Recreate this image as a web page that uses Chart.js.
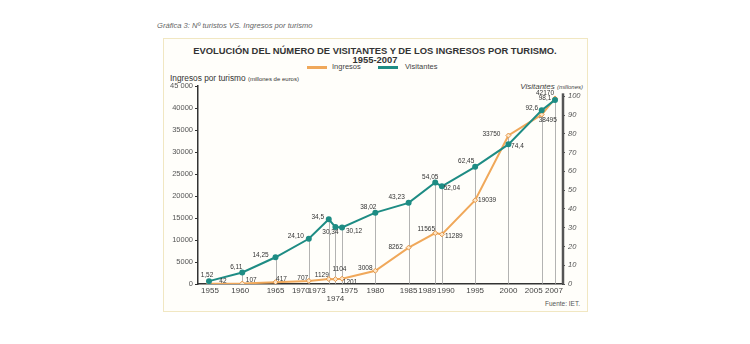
<!DOCTYPE html>
<html>
<head>
<title>Evolución visitantes e ingresos por turismo</title>
<script src="https://cdn.jsdelivr.net/npm/chart.js"></script>
<style>
  body { margin: 0; width: 750px; height: 344px; background: #fff; position: relative; overflow: hidden;
         font-family: 'Liberation Sans', Arial, sans-serif; }
  .abs { position: absolute; white-space: nowrap; line-height: 1; }
  .box { position: absolute; left: 163px; top: 38px; width: 423px; height: 272px;
         border: 1.5px solid #f1e7c2; background: #fffefa; }
  #c { position: absolute; left: 0; top: 0; }
  .caption { left: 157px; top: 22px; font-size: 7.6px; font-style: italic; color: #666; }
  .title { left: 0; width: 750px; text-align: center; font-weight: bold; color: #333; font-size: 9.4px; }
  .leg { top: 62.5px; font-size: 7.5px; color: #444; }
  .legline { position: absolute; top: 66px; height: 2.5px; width: 20px; }
</style>
</head>
<body>
<div class="abs caption">Gráfica 3: Nº turistos VS. Ingresos por turismo</div>
<div class="box"></div>
<div class="abs title" style="top:46px">EVOLUCIÓN DEL NÚMERO DE VISITANTES Y DE LOS INGRESOS POR TURISMO.</div>
<div class="abs title" style="top:55px">1955-2007</div>
<div class="legline" style="left:307px;background:#f0a85a"></div>
<div class="abs leg" style="left:332px">Ingresos</div>
<div class="legline" style="left:378px;background:#1e8c84"></div>
<div class="abs leg" style="left:405px">Visitantes</div>
<div class="abs" style="left:170px;top:74px;font-size:8.3px;color:#333">Ingresos por turismo <span style="font-size:6px">(millones de euros)</span></div>
<div class="abs" style="right:167px;top:83px;font-size:8px;color:#444;font-style:italic">Visitantes <span style="font-size:6px">(millones)</span></div>
<div class="abs" style="right:170px;top:301px;font-size:6.5px;color:#555">Fuente: IET.</div>
<canvas id="c" width="750" height="344"></canvas>

<script>
// datos
const years = [1955, 1960, 1965, 1970, 1973, 1974, 1975, 1980, 1985, 1989, 1990, 1995, 2000, 2005, 2007];
const ingresos = [42, 107, 417, 707, 1129, 1104, 1201, 3008, 8262, 11565, 11289, 19039, 33750, 38495, 42170];
const visitantes = [1.52, 6.11, 14.25, 24.10, 34.5, 30.34, 30.12, 38.02, 43.23, 54.05, 52.04, 62.45, 74.4, 92.6, 98.1];
const visitLabels = ['1,52', '6,11', '14,25', '24,10', '34,5', '30,34', '30,12', '38,02', '43,23', '54,05', '52,04', '62,45', '74,4', '92,6', '98,1'];
const leftTicks = ['0', '5000', '10000', '15000', '20000', '25000', '30000', '35000', '40000', '45 000'];

// desplazamiento de etiquetas (px)
const ingOff = [[14,-3],[9,-3],[6,-3],[-6,-3],[-7,-4],[4,-10],[8,3],[-10,-3],[-13,0],[-9,-4],[12,2],[12,0],[-17,-1],[6,6],[-10,-5]];
const visOff = [[-2,-6],[-6,-5],[-15,-2],[-13,-3],[-11,-2],[-5,5],[12,4],[-7,-5],[-12,-6],[-5,-5],[10,2],[-9,-6],[9,2],[-10,-2],[-10,-2]];
const yearShift = [1,-2,0,-8,-12,0,7,0,0,-8,4,0,0,-8,-1];

const ORANGE = '#f0a85a', TEAL = '#1e8c84';

const dropLines = {
  id: 'dropLines',
  beforeDatasetsDraw(chart) {
    const ctx = chart.ctx, a = chart.chartArea;
    const m0 = chart.getDatasetMeta(0).data, m1 = chart.getDatasetMeta(1).data;
    ctx.save();
    ctx.strokeStyle = '#a0a0a0';
    ctx.lineWidth = 0.8;
    years.forEach((y, i) => {
      const top = Math.min(m0[i].y, m1[i].y);
      ctx.beginPath();
      ctx.moveTo(Math.round(m0[i].x) + 0.5, a.bottom);
      ctx.lineTo(Math.round(m0[i].x) + 0.5, top);
      ctx.stroke();
    });
    // eje derecho, más corto que el izquierdo
    const y2 = chart.scales.y2;
    ctx.strokeStyle = '#555';
    ctx.lineWidth = 2.5;
    ctx.beginPath();
    ctx.moveTo(a.right + 1, a.bottom);
    ctx.lineTo(a.right + 1, y2.getPixelForValue(100) - 3);
    ctx.stroke();
    ctx.restore();
  }
};

const valueLabels = {
  id: 'valueLabels',
  afterDatasetsDraw(chart) {
    const ctx = chart.ctx;
    ctx.save();
    ctx.font = '6.5px "Liberation Sans", Arial, sans-serif';
    ctx.fillStyle = '#333';
    ctx.textAlign = 'center';
    ctx.textBaseline = 'middle';
    chart.getDatasetMeta(0).data.forEach((p, i) => {
      ctx.fillText(String(ingresos[i]), p.x + ingOff[i][0], p.y + ingOff[i][1]);
    });
    chart.getDatasetMeta(1).data.forEach((p, i) => {
      ctx.fillText(visitLabels[i], p.x + visOff[i][0], p.y + visOff[i][1]);
    });
    // años del eje x
    const xs = chart.scales.x, b = chart.chartArea.bottom;
    ctx.font = '8px "Liberation Sans", Arial, sans-serif';
    ctx.fillStyle = '#444';
    ctx.textBaseline = 'top';
    years.forEach((y, i) => {
      const x = xs.getPixelForValue(y);
      ctx.fillText(String(y), x + yearShift[i], b + (y === 1974 ? 11 : 3));
    });
    ctx.restore();
  }
};

new Chart(document.getElementById('c'), {
  type: 'line',
  data: {
    datasets: [{
      label: 'Ingresos',
      data: years.map((y, i) => ({x: y, y: ingresos[i]})),
      borderColor: ORANGE,
      borderWidth: 2,
      pointStyle: 'rectRot',
      pointRadius: 2.5,
      pointBackgroundColor: '#fde6c8',
      pointBorderColor: '#e39445',
      pointBorderWidth: 1,
      yAxisID: 'y',
      order: 1
    }, {
      label: 'Visitantes',
      data: years.map((y, i) => ({x: y, y: visitantes[i]})),
      borderColor: TEAL,
      borderWidth: 2,
      pointRadius: 2,
      pointBackgroundColor: TEAL,
      pointBorderColor: TEAL,
      yAxisID: 'y2',
      order: 0
    }]
  },
  options: {
    responsive: false,
    animation: false,
    devicePixelRatio: 1,
    layout: { padding: { left: 163, right: 158, top: 86, bottom: 60 } },
    plugins: { legend: { display: false }, tooltip: { enabled: false } },
    scales: {
      x: {
        type: 'linear', min: 1953.35, max: 2008.05,
        ticks: { display: false },
        grid: { display: false },
        border: { color: '#333', width: 1.5 },
        afterFit: s => { s.height = 0; }
      },
      y: {
        position: 'left', min: 0, max: 45000,
        ticks: { stepSize: 5000, color: '#555', font: { size: 7.5 }, padding: 2,
                 callback: (v, i) => leftTicks[i] },
        grid: { drawOnChartArea: false, tickLength: 3, color: '#333' },
        border: { color: '#333', width: 1.5 },
        afterFit: s => { s.width = 35; }
      },
      y2: {
        position: 'right', min: 0, max: 105.5,
        afterBuildTicks: s => { s.ticks = s.ticks.filter(t => t.value <= 100 && t.value % 10 === 0); },
        ticks: { stepSize: 10, color: '#555', font: { size: 7.5, style: 'italic' }, padding: 3 },
        grid: { drawOnChartArea: false, tickLength: 3, color: '#555' },
        border: { display: false },
        afterFit: s => { s.width = 30; }
      }
    }
  },
  plugins: [dropLines, valueLabels]
});
</script>
</body>
</html>
